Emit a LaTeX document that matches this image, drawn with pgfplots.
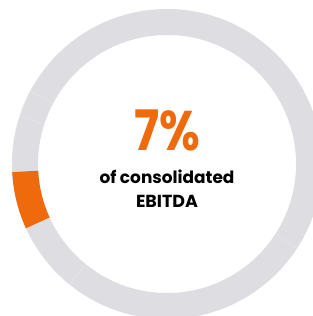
\documentclass[border=0pt]{standalone}
\usepackage{pgfplots}
\pgfplotsset{compat=1.18}
\usepackage{fontspec}
\setmainfont{Poppins}
\newfontfamily\bigfont{Poppins}[FakeStretch=0.84]
\definecolor{ringgray}{HTML}{DDDDE2}
\definecolor{accent}{HTML}{EE6A0C}
\def\cx{167}\def\cy{152}\def\ro{155}\def\ri{129}
\begin{document}
\begin{tikzpicture}
\useasboundingbox (0,0) rectangle (313bp,316bp);
\begin{axis}[at={(0,0)},anchor=south west,width=313bp,height=316bp,scale only axis,xmin=0,xmax=313,ymin=0,ymax=316,hide axis]
\fill[ringgray, even odd rule] (axis cs:\cx,\cy) circle[radius=\ro] (axis cs:\cx,\cy) circle[radius=\ri];
\pgfplotsinvokeforeach{152,162,231,327}{
\draw[white, opacity=0.35, line width=0.4pt] (axis cs:{\cx+\ri*cos(#1)},{\cy+\ri*sin(#1)}) -- (axis cs:{\cx+\ro*cos(#1)},{\cy+\ro*sin(#1)});
}
\fill[accent] (axis cs:{\cx+\ro*cos(183)},{\cy+\ro*sin(183)}) arc[start angle=183,end angle=204.5,radius=\ro] -- (axis cs:{\cx+\ri*cos(204.5)},{\cy+\ri*sin(204.5)}) arc[start angle=204.5,end angle=183,radius=\ri] -- cycle;
\node[anchor=base, text=accent, font=\fontsize{56}{56}\bigfont\bfseries] at (axis cs:167,165) {7\%};
\node[anchor=base, font=\fontsize{17}{17}\selectfont\bfseries] at (axis cs:167,132) {of consolidated};
\node[anchor=base, font=\fontsize{17.5}{17.5}\selectfont\bfseries] at (axis cs:167,108) {EBITDA};
\end{axis}
\end{tikzpicture}
\end{document}
